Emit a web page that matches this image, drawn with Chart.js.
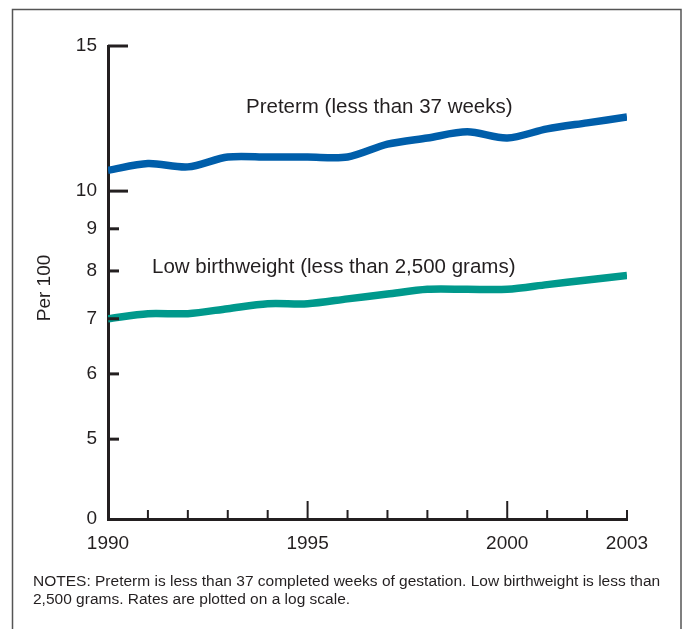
<!DOCTYPE html>
<html>
<head>
<meta charset="utf-8">
<script src="https://cdn.jsdelivr.net/npm/chart.js@4.4.1/dist/chart.umd.min.js"></script>
<style>
  html, body { margin: 0; padding: 0; background: #fff; }
  #wrap { position: relative; width: 683px; height: 629px; }
</style>
</head>
<body>
<div id="wrap"><canvas id="births-chart" width="683" height="629"></canvas></div>
<script>
// Preterm and low birthweight rates, 1990-2003 (per 100, log scale)
const years = [1990, 1991, 1992, 1993, 1994, 1995, 1996, 1997, 1998, 1999, 2000, 2001, 2002, 2003];
const pretermRates = [10.6, 10.8, 10.7, 11.0, 11.0, 11.0, 11.0, 11.4, 11.6, 11.8, 11.6, 11.9, 12.1, 12.3];
const lowBirthweightRates = [7.0, 7.1, 7.1, 7.2, 7.3, 7.3, 7.4, 7.5, 7.6, 7.6, 7.6, 7.7, 7.8, 7.9];
const yTickValues = [4, 5, 6, 7, 8, 9, 10, 15];
const xTickValues = [1990, 1995, 2000, 2003];
const seriesLabels = ['Preterm (less than 37 weeks)', 'Low birthweight (less than 2,500 grams)'];
const notes = [
  'NOTES: Preterm is less than 37 completed weeks of gestation. Low birthweight is less than',
  '2,500 grams. Rates are plotted on a log scale.'
];

const FONT = '"Liberation Sans", Arial, Helvetica, sans-serif';
const INK = '#231f20';

// frame, inward tick marks, line labels, y title, notes
const decorations = {
  id: 'decorations',
  afterDraw(chart) {
    const { ctx, scales: { x, y } } = chart;
    ctx.save();

    // outer frame (open at the bottom)
    ctx.strokeStyle = '#555';
    ctx.lineWidth = 1.5;
    ctx.beginPath();
    ctx.moveTo(12.5, 629);
    ctx.lineTo(12.5, 9.5);
    ctx.lineTo(681, 9.5);
    ctx.lineTo(681, 629);
    ctx.stroke();

    // y tick marks pointing into the plot
    ctx.strokeStyle = INK;
    ctx.lineWidth = 3;
    yTickValues.forEach(v => {
      if (v === 4) return;
      const py = y.getPixelForValue(v);
      const len = (v === 10 || v === 15) ? 20 : 11;
      ctx.beginPath();
      ctx.moveTo(x.left, py);
      ctx.lineTo(x.left + len, py);
      ctx.stroke();
    });

    // x tick marks pointing up, every year
    ctx.lineWidth = 2;
    years.forEach(yr => {
      if (yr === 1990) return;
      const px = x.getPixelForValue(yr);
      const len = (yr === 1995 || yr === 2000) ? 18 : 9;
      ctx.beginPath();
      ctx.moveTo(px, y.bottom);
      ctx.lineTo(px, y.bottom - len);
      ctx.stroke();
    });

    // series labels
    ctx.fillStyle = INK;
    ctx.font = '20.5px ' + FONT;
    ctx.textBaseline = 'middle';
    ctx.textAlign = 'left';
    ctx.fillText(seriesLabels[0], 246, 107);
    ctx.fillText(seriesLabels[1], 152, 267);

    // y axis title
    ctx.save();
    ctx.translate(45, 288);
    ctx.rotate(-Math.PI / 2);
    ctx.textAlign = 'center';
    ctx.font = '19px ' + FONT;
    ctx.fillText('Per 100', 0, 0);
    ctx.restore();

    // notes
    ctx.font = '15.5px ' + FONT;
    ctx.textAlign = 'left';
    ctx.textBaseline = 'alphabetic';
    ctx.fillText(notes[0], 33, 586);
    ctx.fillText(notes[1], 33, 604);

    ctx.restore();
  }
};

new Chart(document.getElementById('births-chart'), {
  type: 'line',
  data: {
    datasets: [
      {
        label: seriesLabels[0],
        data: years.map((yr, i) => ({ x: yr, y: pretermRates[i] })),
        borderColor: '#005eaa',
        borderWidth: 7.5,
        pointRadius: 0,
        tension: 0.3,
        fill: false
      },
      {
        label: seriesLabels[1],
        data: years.map((yr, i) => ({ x: yr, y: lowBirthweightRates[i] })),
        borderColor: '#00998c',
        borderWidth: 7.5,
        pointRadius: 0,
        tension: 0.3,
        fill: false
      }
    ]
  },
  options: {
    responsive: false,
    animation: false,
    events: [],
    layout: { padding: { top: 46, right: 56, left: 0, bottom: 0 } },
    plugins: {
      legend: { display: false },
      tooltip: { enabled: false }
    },
    scales: {
      x: {
        type: 'linear',
        min: 1990,
        max: 2003,
        afterBuildTicks: scale => { scale.ticks = xTickValues.map(v => ({ value: v })); },
        afterFit: scale => { scale.height = 110; },
        grid: { display: false, drawTicks: false },
        border: { display: true, color: INK, width: 3 },
        ticks: {
          color: INK,
          padding: 13,
          maxRotation: 0,
          font: { family: FONT, size: 19 },
          callback: v => String(v)
        }
      },
      y: {
        type: 'logarithmic',
        min: 4,
        max: 15,
        afterBuildTicks: scale => { scale.ticks = yTickValues.map(v => ({ value: v, major: false })); },
        afterFit: scale => { scale.width = 108; },
        grid: { display: false, drawTicks: false },
        border: { display: true, color: INK, width: 3 },
        ticks: {
          color: INK,
          padding: 11,
          font: { family: FONT, size: 19 },
          callback: v => (v === 4 ? '0' : String(v))
        }
      }
    }
  },
  plugins: [decorations]
});
</script>
</body>
</html>
